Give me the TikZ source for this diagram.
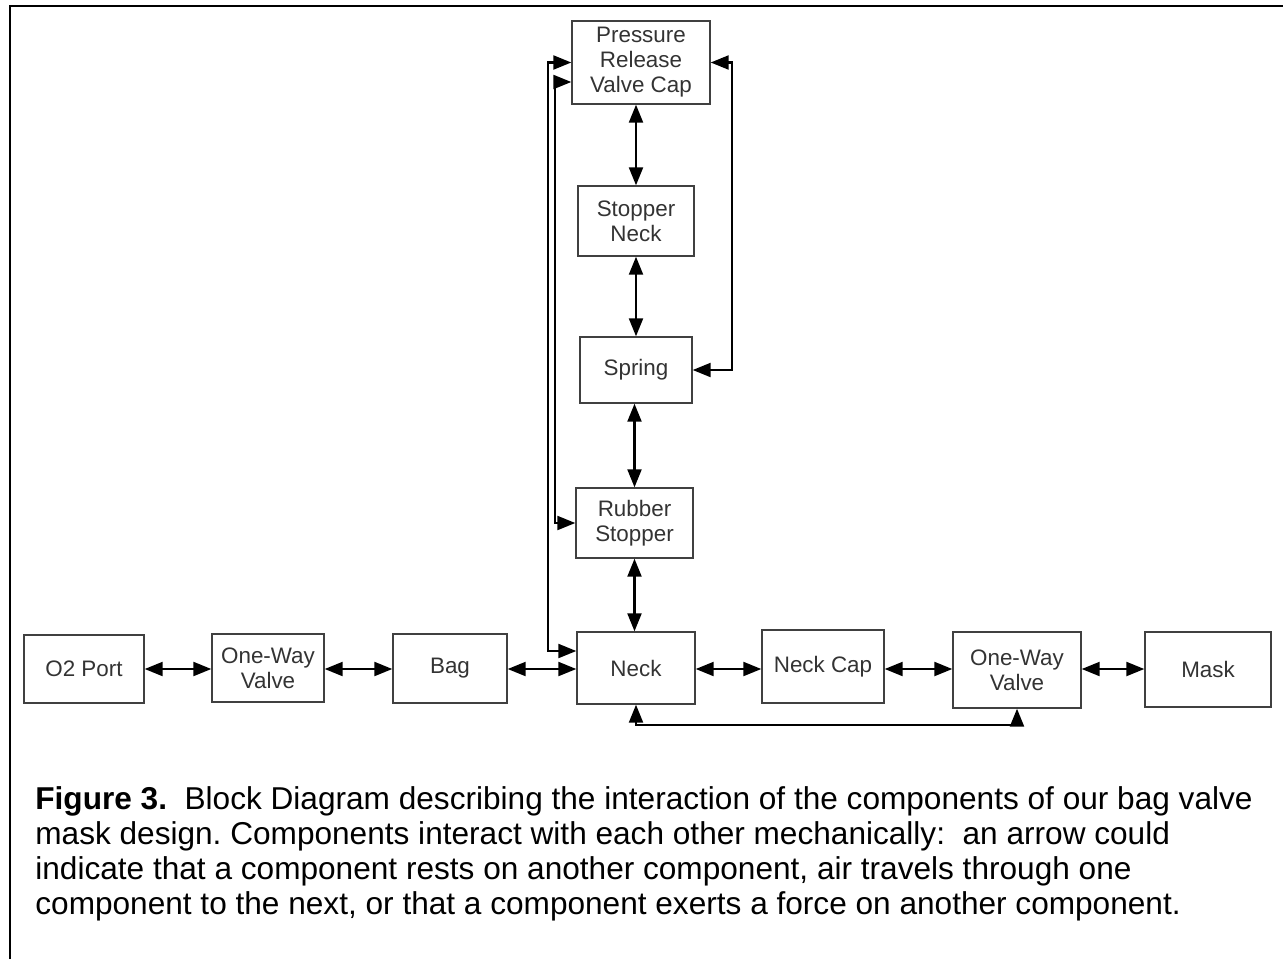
\documentclass[tikz,border=0pt]{standalone}
\usepackage{fontspec}
\setmainfont{Liberation Sans}
\usetikzlibrary{arrows.meta}
\frenchspacing

\begin{document}
\begin{tikzpicture} [x=0.5pt, y=-0.5pt,
  part/.style={draw=black!75, line width=0.7pt, align=center, inner sep=0pt, text=black!80, font=\fontsize{11.2}{12.5}\selectfont},
  link/.style={line width=1.1pt, {Triangle[length=9pt,width=7pt]}-{Triangle[length=9pt,width=7pt]}}] %bag valve mask
\useasboundingbox (0,0) rectangle (1283,959);
\draw[line width=1.2pt] (10,959) -- (10,6) -- (1283,6);
% column
\node[part, minimum width=69pt, minimum height=41.5pt] (prvc) at (641,62.5) {Pressure\\Release\\Valve Cap};
\node[part, minimum width=58pt, minimum height=35pt] (stopneck) at (636,221) {Stopper\\Neck};
\node[part, minimum width=56pt, minimum height=33pt] (spring) at (636,370) {Spring};
\node[part, minimum width=58.5pt, minimum height=35pt] (rubber) at (634.5,523) {Rubber\\Stopper};
\node[part, minimum width=59pt, minimum height=36pt] (neck) at (636,668) {Neck};
% row
\node[part, minimum width=60pt, minimum height=34pt] (otwo) at (84,669) {O2 Port};
\node[part, minimum width=56pt, minimum height=34pt] (valveA) at (268,668) {One-Way\\Valve};
\node[part, minimum width=57pt, minimum height=34.5pt] (bag) at (450,668.5) {Bag};
\node[part, minimum width=61pt, minimum height=36.5pt] (neckcap) at (823,666.5) {Neck Cap};
\node[part, minimum width=64pt, minimum height=38pt] (valveB) at (1017,670) {One-Way\\Valve};
\node[part, minimum width=63pt, minimum height=37.5pt] (mask) at (1208,669.5) {Mask};

\draw[link] (prvc.south -| stopneck) -- (stopneck.north);
\draw[link] (stopneck) -- (spring);
\draw[link] (spring.south -| rubber) -- (rubber.north);
\draw[link] (rubber.south) -- (rubber.south |- neck.north);

\draw[link] (otwo.east) -- (otwo.east -| valveA.west);
\draw[link] (valveA.east |- otwo) -- (otwo -| bag.west);
\draw[link] (bag.east |- otwo) -- (otwo -| neck.west);
\draw[link] (neck.east |- otwo) -- (otwo -| neckcap.west);
\draw[link] (neckcap.east |- otwo) -- (otwo -| valveB.west);
\draw[link] (valveB.east |- otwo) -- (otwo -| mask.west);

\draw[link] (prvc.west) -| (548,651) -- (neck.west |- 0,651);
\draw[link] (prvc.west |- 0,82) -| (555,523) -- (rubber.west);
\draw[link] (prvc.east) -| (732,370) -- (spring.east);
\draw[link] (neck.south) |- (1017,725) -- (valveB.south);

\node[anchor=north west, inner sep=0pt, align=left, font=\fontsize{15.8}{17.5}\selectfont] (caption) at (35,786)
  {\textbf{Figure 3.}~ Block Diagram describing the interaction of the components of our bag valve\\
   mask design. Components interact with each other mechanically:~ an arrow could\\
   indicate that a component rests on another component, air travels through one\\
   component to the next, or that a component exerts a force on another component.};
\end{tikzpicture}
\end{document}
